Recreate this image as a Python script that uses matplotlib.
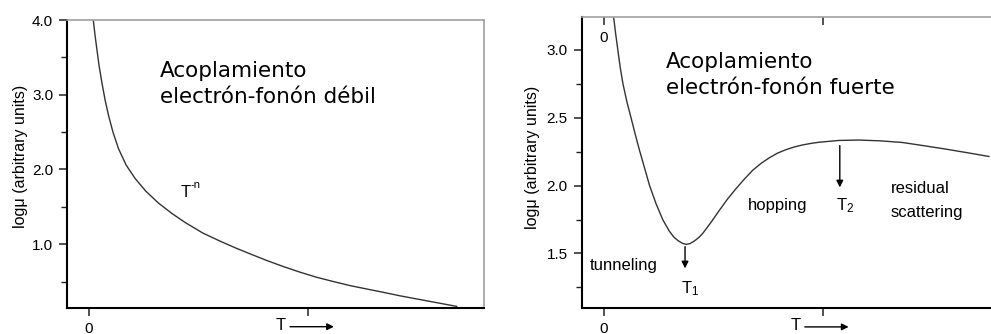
import numpy as np
import matplotlib
matplotlib.use("Agg")
from matplotlib import pyplot as plt

plt.rcParams['font.family'] = ['Liberation Sans', 'DejaVu Sans']
plt.rcParams['mathtext.fontset'] = 'custom'
plt.rcParams['mathtext.rm'] = 'Liberation Sans'
plt.rcParams['mathtext.it'] = 'Liberation Sans'

# curva debil: log mu ~ T^-n
T_debil = [0.020, 0.028, 0.036, 0.047, 0.059, 0.074, 0.090, 0.110, 0.135,
           0.170, 0.211, 0.260, 0.318, 0.380, 0.440, 0.520, 0.600, 0.670,
           0.737, 0.810, 0.889, 0.965, 1.041, 1.117, 1.193, 1.270, 1.345,
           1.420, 1.498, 1.590, 1.680]
mu_debil = [4.00, 3.80, 3.62, 3.38, 3.17, 2.93, 2.72, 2.50, 2.28,
            2.06, 1.88, 1.71, 1.55, 1.41, 1.29, 1.15, 1.04, 0.95,
            0.87, 0.785, 0.70, 0.625, 0.557, 0.50, 0.446, 0.40, 0.356,
            0.31, 0.267, 0.217, 0.168]

# curva fuerte: tunneling / hopping / residual scattering
T_fuerte = [0.046, 0.055, 0.065, 0.076, 0.088, 0.106, 0.126, 0.145, 0.164,
            0.188, 0.210, 0.240, 0.270, 0.300, 0.320, 0.340, 0.360, 0.377,
            0.395, 0.415, 0.435, 0.453, 0.490, 0.529, 0.567, 0.605, 0.643,
            0.681, 0.720, 0.757, 0.795, 0.833, 0.871, 0.909, 0.950, 0.985,
            1.075, 1.167, 1.265, 1.365, 1.460, 1.560, 1.660, 1.760]
mu_fuerte = [3.24, 3.12, 3.00, 2.87, 2.754, 2.62, 2.496, 2.375, 2.26,
             2.125, 2.00, 1.865, 1.75, 1.665, 1.622, 1.594, 1.575, 1.567,
             1.573, 1.592, 1.618, 1.648, 1.728, 1.818, 1.903, 1.978, 2.048,
             2.113, 2.165, 2.205, 2.240, 2.265, 2.285, 2.300, 2.312, 2.320,
             2.333, 2.336, 2.330, 2.318, 2.295, 2.270, 2.243, 2.215]

T1, T2 = 0.372, 1.079

yticks_debil = [1.0, 2.0, 3.0, 4.0]
yminor_debil = [0.5, 1.5, 2.5, 3.5]
yticks_fuerte = [1.5, 2.0, 2.5, 3.0]
yminor_fuerte = [1.25, 1.75, 2.25, 2.75]

GRIS = '#a0a0a0'
LINEA = '#333333'
FS = 12


def prepara(ax, yt, ym, ylim):
  ax.set_xlim(-0.1, 1.805)
  ax.set_ylim(*ylim)
  ax.set_xticks([0, 1], ['0', ''])
  ax.set_yticks(yt, ['%.1f' % v for v in yt])
  ax.set_yticks(ym, minor=True)
  ax.tick_params(axis='both', which='major', direction='out', length=6,
                 width=1.1, labelsize=11, pad=4, color='#222222')
  ax.tick_params(axis='y', which='minor', direction='out', length=4,
                 width=1.0, color='#222222')
  ax.spines['left'].set_linewidth(1.5)
  ax.spines['bottom'].set_linewidth(1.5)
  ax.spines['top'].set_color(GRIS)
  ax.spines['right'].set_color(GRIS)
  ax.spines['top'].set_linewidth(1.2)
  ax.spines['right'].set_linewidth(1.2)
  ax.set_ylabel('logμ (arbitrary units)', fontsize=11.5)
  # T --->
  ax.text(0.50, -0.088, 'T', transform=ax.transAxes, fontsize=FS,
          ha='left', va='bottom')
  ax.annotate('', xy=(0.64, -0.066), xytext=(0.535, -0.066),
              xycoords='axes fraction',
              arrowprops=dict(arrowstyle='-|>', color='black', lw=1.0,
                              mutation_scale=10, shrinkA=0, shrinkB=0))


fig = plt.figure(figsize=(9.91, 3.34), dpi=100)

ax1 = fig.add_axes([0.0676, 0.0787, 0.4208, 0.8614])
ax1.plot(T_debil, mu_debil, color=LINEA, lw=1.0)
prepara(ax1, yticks_debil, yminor_debil, (0.15, 4.0))
ax1.yaxis.set_label_coords(-0.094, 0.527)
ax1.text(0.223, 0.857, 'Acoplamiento\nelectrón-fonón débil',
         transform=ax1.transAxes, family='DejaVu Sans', fontsize=15.5,
         ha='left', va='top', linespacing=1.38)
ax1.text(0.417, 1.63, 'T', fontsize=FS, ha='left', va='baseline')
ax1.annotate('-n', xy=(0.417, 1.63), xytext=(7.5, 6.5),
             textcoords='offset points', fontsize=8, ha='left',
             va='baseline')

ax2 = fig.add_axes([0.587, 0.0787, 0.4208, 0.8704])
ax2.plot(T_fuerte, mu_fuerte, color=LINEA, lw=1.0)
prepara(ax2, yticks_fuerte, yminor_fuerte, (1.10, 3.243))
ax2.yaxis.set_label_coords(-0.10, 0.518)
sec = ax2.secondary_xaxis('top')
sec.set_xticks([0, 1], ['0', ''])
sec.tick_params(direction='in', length=6, width=1.1, pad=-20,
                labelsize=11, color='#222222')
sec.spines['top'].set_visible(False)
ax2.text(0.2014, 0.88, 'Acoplamiento\nelectrón-fonón fuerte',
         transform=ax2.transAxes, family='DejaVu Sans', fontsize=15.5,
         ha='left', va='top', linespacing=1.38)

flecha = dict(arrowstyle='-|>', color='black', lw=1.0, mutation_scale=10,
              shrinkA=0, shrinkB=0)
ax2.annotate('', xy=(T1, 1.39), xytext=(T1, 1.55), arrowprops=flecha)
ax2.annotate('', xy=(T2, 1.987), xytext=(T2, 2.295), arrowprops=flecha)
ax2.text(-0.064, 1.414, 'tunneling', fontsize=FS, ha='left', va='center')
ax2.text(0.354, 1.205, r'T$_{\mathrm{1}}$', fontsize=FS, ha='left',
         va='baseline')
ax2.text(0.657, 1.82, 'hopping', fontsize=FS, ha='left', va='baseline')
ax2.text(1.061, 1.82, r'T$_{\mathrm{2}}$', fontsize=FS, ha='left',
         va='baseline')
ax2.text(1.312, 1.943, 'residual', fontsize=FS, ha='left', va='baseline')
ax2.text(1.312, 1.77, 'scattering', fontsize=FS, ha='left', va='baseline')

fig.savefig('out.png', dpi=100)
